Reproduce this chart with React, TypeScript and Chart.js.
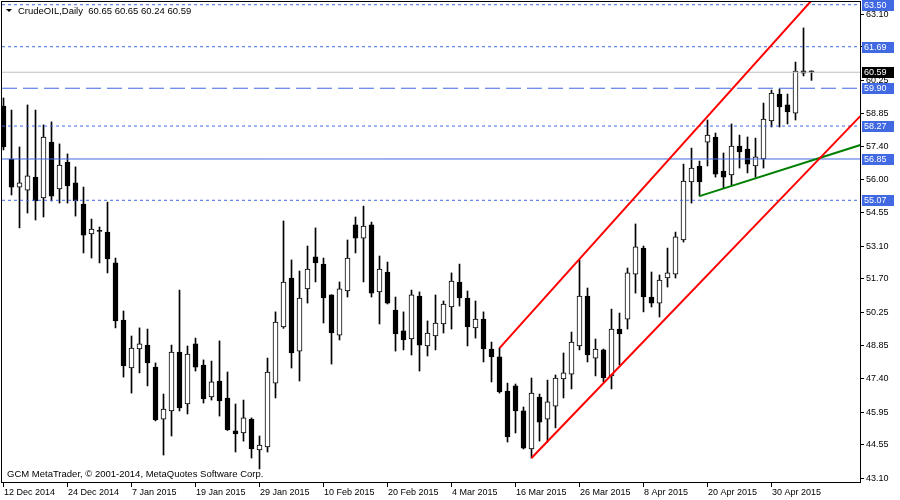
import React, { useEffect, useRef } from "react";
import { Chart, registerables } from "chart.js";

Chart.register(...registerables);

// ---- data ----
const opens = [
  59.13, 56.85, 55.64, 55.51, 56.07, 55.17, 57.58, 55.56, 56.72, 55.82,
  54.91, 53.62, 53.77, 53.70, 52.37, 49.91, 47.84, 48.66, 48.83, 47.88,
  45.64, 45.99, 48.53, 46.29, 48.88, 47.97, 46.59, 47.28, 46.55, 45.13,
  45.04, 45.64, 44.31, 44.44, 47.19, 49.61, 51.72, 48.57, 51.25, 52.63,
  52.32, 50.99, 49.26, 51.16, 54.01, 53.44, 54.01, 51.12, 51.98, 50.34,
  49.44, 49.09, 50.94, 48.79, 49.22, 49.74, 50.47, 51.55, 50.86, 49.57,
  49.95, 48.66, 48.32, 46.85, 47.07, 45.99, 44.35, 46.59, 45.64, 46.20,
  47.37, 47.58, 48.79, 50.94, 48.27, 48.62, 47.50, 49.52, 49.95, 51.89,
  53.01, 50.90, 50.64, 51.72, 51.89, 53.36, 55.86, 56.55, 57.58, 57.80,
  56.33, 56.16, 57.41, 57.28, 56.55, 56.85, 58.49, 59.65, 59.18, 58.83,
  60.65, 60.65,
];
const highs = [
  59.48, 58.96, 57.37, 59.18, 58.96, 58.32, 58.45, 57.50, 57.07, 56.51,
  55.64, 54.26, 53.92, 54.99, 52.58, 50.30, 49.22, 49.57, 49.52, 48.06,
  46.72, 48.83, 51.20, 48.79, 49.13, 48.19, 48.14, 49.01, 47.67, 46.29,
  46.46, 45.69, 44.91, 48.27, 50.26, 54.18, 52.50, 52.02, 53.10, 53.88,
  52.58, 51.00, 51.55, 53.36, 54.35, 54.82, 54.13, 52.67, 52.41, 50.90,
  50.26, 51.20, 51.12, 49.87, 50.99, 50.73, 51.94, 52.32, 51.16, 50.73,
  50.26, 48.96, 48.70, 47.19, 47.15, 46.16, 47.41, 46.72, 47.32, 47.54,
  48.49, 49.39, 52.50, 51.29, 49.09, 48.66, 50.38, 50.21, 52.15, 54.05,
  53.10, 51.98, 51.85, 53.01, 53.70, 56.63, 57.32, 56.76, 58.53, 57.97,
  57.11, 58.36, 57.88, 57.80, 57.75, 59.26, 59.82, 59.87, 59.65, 61.03,
  62.50, 60.65,
];
const lows = [
  57.24, 55.30, 53.88, 54.52, 54.22, 54.35, 55.04, 54.95, 54.95, 54.39,
  52.80, 52.58, 52.37, 51.94, 49.57, 47.45, 46.76, 47.63, 47.07, 45.56,
  44.09, 44.91, 45.99, 45.86, 47.71, 46.33, 46.46, 45.77, 45.15, 44.22,
  44.69, 43.96, 43.49, 44.22, 46.55, 49.55, 47.84, 47.28, 50.64, 51.55,
  49.78, 48.01, 49.05, 50.90, 52.80, 51.55, 50.90, 49.74, 50.60, 48.57,
  48.62, 48.40, 47.71, 48.36, 48.62, 49.35, 49.52, 50.51, 48.79, 49.13,
  48.10, 47.24, 46.76, 44.65, 45.04, 44.35, 43.96, 44.69, 44.65, 45.26,
  46.55, 46.94, 48.62, 48.10, 47.50, 47.24, 46.94, 47.97, 49.52, 51.07,
  50.26, 50.47, 50.04, 51.33, 51.72, 53.27, 54.95, 55.25, 56.55, 56.07,
  55.60, 55.73, 56.46, 56.25, 56.07, 56.46, 58.23, 58.23, 58.36, 58.53,
  60.43, 60.24,
];
const closes = [
  57.37, 55.64, 55.82, 56.12, 55.04, 57.80, 55.25, 56.59, 55.69, 55.04,
  53.57, 53.83, 53.73, 52.54, 49.87, 47.93, 48.70, 48.88, 48.06, 45.60,
  46.07, 48.53, 46.12, 48.44, 47.88, 46.51, 47.24, 46.42, 45.17, 45.00,
  45.69, 44.35, 44.52, 47.67, 49.82, 51.55, 48.49, 50.86, 52.11, 52.37,
  50.86, 49.35, 51.25, 52.58, 53.44, 53.96, 51.07, 52.11, 50.64, 49.31,
  49.05, 50.99, 48.83, 49.35, 49.78, 50.60, 51.59, 50.86, 49.61, 49.95,
  48.66, 48.32, 46.81, 44.87, 45.99, 44.39, 46.76, 45.51, 46.38, 47.41,
  47.63, 48.96, 50.94, 48.40, 48.66, 47.41, 49.52, 49.31, 51.94, 53.06,
  50.90, 50.64, 51.63, 51.94, 53.49, 55.90, 56.46, 55.86, 57.88, 56.20,
  56.07, 57.41, 57.15, 56.63, 56.94, 58.57, 59.69, 59.09, 58.88, 60.64,
  60.55, 60.59,
];

const dateTickLabels = [
  "12 Dec 2014", "24 Dec 2014", "7 Jan 2015", "19 Jan 2015", "29 Jan 2015",
  "10 Feb 2015", "20 Feb 2015", "4 Mar 2015", "16 Mar 2015", "26 Mar 2015",
  "8 Apr 2015", "20 Apr 2015", "30 Apr 2015",
];
const dateTickStep = 8;

const priceTickLabels = [
  "43.10", "44.55", "45.95", "47.40", "48.85", "50.25", "51.70", "53.10",
  "54.55", "56.00", "57.40", "58.85", "60.25", "61.70", "63.10",
];

const levelValues = [63.5, 61.69, 59.9, 58.27, 56.85, 55.07];
const levelStyles = ["dot", "dot", "dash", "dot", "solid", "dot"];
const bidPrice = 60.59;

const upperChannel = [{ x: 62, y: 48.7 }, { x: 104, y: 64.83 }];
const lowerChannel = [{ x: 66, y: 43.96 }, { x: 107.1, y: 58.7 }];
const supportLine = [{ x: 87, y: 55.25 }, { x: 107.1, y: 57.45 }];

const titleText = "CrudeOIL,Daily  60.65 60.65 60.24 60.59";
const footerText = "GCM MetaTrader, \u00A9 2001-2014, MetaQuotes Software Corp.";

const FONT = '9px "Liberation Sans", Arial, sans-serif';
const FONT_BIG = '9.5px "Liberation Sans", Arial, sans-serif';
const BLUE = "#4169E1";

export default function App() {
  const ref = useRef<HTMLCanvasElement>(null);

  useEffect(() => {
    document.body.style.margin = "0";
    const canvas = ref.current!;
    const xMin = -0.1875;
    const xMax = 107.0625;

    const wickData = opens.map((_, i) => ({ x: i, y: [lows[i], highs[i]] }));
    const bodyData = opens.map((o, i) => ({ x: i, y: [o, closes[i]] }));
    const bodyColors = opens.map((o, i) => (closes[i] >= o ? "#ffffff" : "#000000"));

    const dashMap: Record<string, number[]> = { dot: [3, 3], dash: [15, 6], solid: [] };

    const levelSets = levelValues.map((v, k) => ({
      type: "line" as const,
      data: [{ x: xMin, y: v }, { x: xMax, y: v }],
      borderColor: BLUE,
      borderWidth: 1,
      borderDash: dashMap[levelStyles[k]],
      pointRadius: 0,
      order: 0,
      clip: 0,
    }));

    const overlay = {
      id: "overlay",
      afterDraw(c: any) {
        const { ctx, chartArea: a, scales } = c;
        const xs = scales.x;
        const ys = scales.y;
        ctx.save();
        ctx.strokeStyle = "#000";
        ctx.lineWidth = 1;
        ctx.strokeRect(a.left - 0.5, a.top - 0.5, a.right - a.left + 1, a.bottom - a.top + 1);

        ctx.font = FONT;
        ctx.textAlign = "left";
        ctx.textBaseline = "middle";
        ctx.fillStyle = "#000";
        priceTickLabels.forEach((t) => {
          const y = Math.round(ys.getPixelForValue(parseFloat(t)));
          ctx.fillRect(a.right + 1, y, 3, 1);
          ctx.fillText(t, a.right + 6, y + 0.5);
        });

        const box = (v: number, bg: string) => {
          const y = Math.round(ys.getPixelForValue(v));
          ctx.fillStyle = bg;
          ctx.fillRect(a.right + 2, y - 5, 32, 11);
          ctx.fillStyle = "#fff";
          ctx.fillText(v.toFixed(2), a.right + 4, y + 0.5);
        };
        levelValues.forEach((v) => box(v, BLUE));
        box(bidPrice, "#000");

        ctx.textBaseline = "alphabetic";
        ctx.fillStyle = "#000";
        dateTickLabels.forEach((t, k) => {
          const x = Math.floor(xs.getPixelForValue(k * dateTickStep));
          ctx.fillRect(x, a.bottom + 1, 1, 4);
          ctx.fillText(t, x + 1, a.bottom + 13);
        });

        ctx.font = FONT_BIG;
        ctx.beginPath();
        ctx.moveTo(6, 9);
        ctx.lineTo(12, 9);
        ctx.lineTo(9, 12);
        ctx.closePath();
        ctx.fill();
        ctx.fillText(titleText, 18, 14);
        ctx.fillText(footerText, 7, 477);
        ctx.restore();
      },
    };

    const chart = new Chart(canvas, {
      type: "bar",
      data: {
        datasets: [
          {
            type: "line",
            data: upperChannel,
            borderColor: "#FF0000",
            borderWidth: 2,
            pointRadius: 0,
            order: 0,
            clip: 0,
          } as any,
          {
            type: "line",
            data: lowerChannel,
            borderColor: "#FF0000",
            borderWidth: 2,
            pointRadius: 0,
            order: 0,
            clip: 0,
          } as any,
          {
            type: "line",
            data: supportLine,
            borderColor: "#008000",
            borderWidth: 2,
            pointRadius: 0,
            order: 0,
            clip: 0,
          } as any,
          ...(levelSets as any[]),
          {
            type: "line",
            data: [{ x: xMin, y: bidPrice }, { x: xMax, y: bidPrice }],
            borderColor: "#C0C0C0",
            borderWidth: 1,
            pointRadius: 0,
            order: 0,
            clip: 0,
          } as any,
          {
            type: "bar",
            data: bodyData as any,
            backgroundColor: bodyColors,
            borderColor: "#000",
            borderWidth: 1,
            borderSkipped: false,
            grouped: false,
            barThickness: 5,
            maxBarThickness: 5,
            minBarLength: 1,
            order: 1,
          } as any,
          {
            type: "bar",
            data: wickData as any,
            backgroundColor: "#000",
            borderWidth: 0,
            grouped: false,
            barThickness: 1,
            maxBarThickness: 1,
            order: 2,
          } as any,
        ],
      },
      options: {
        animation: false,
        responsive: false,
        devicePixelRatio: 1,
        events: [],
        layout: { padding: { left: 2, top: 2, right: 40, bottom: 18 } },
        plugins: { legend: { display: false }, tooltip: { enabled: false } },
        scales: {
          x: { type: "linear", min: xMin, max: xMax, offset: false, display: false },
          y: { type: "linear", min: 42.9276, max: 63.617, display: false },
        },
      },
      plugins: [overlay],
    });
    return () => chart.destroy();
  }, []);

  return (
    <canvas
      ref={ref}
      width={900}
      height={500}
      style={{ display: "block", width: 900, height: 500 }}
    />
  );
}
